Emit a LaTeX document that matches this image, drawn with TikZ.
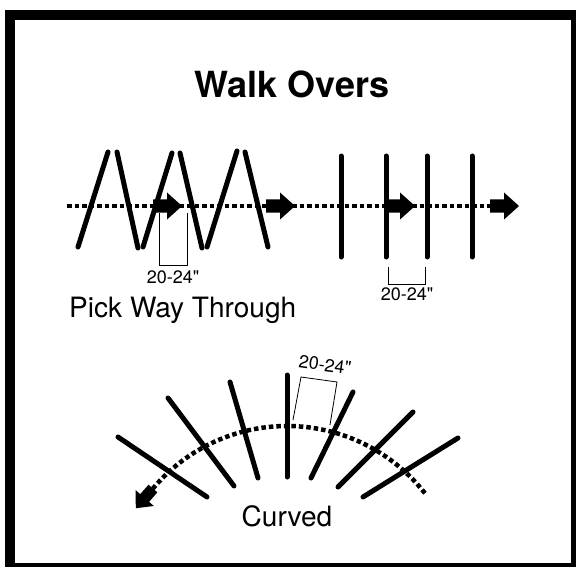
\documentclass[tikz,border=0pt]{standalone}
\usepackage{fontspec}
\setmainfont{TeX Gyre Heros}[Ligatures=TeXOff]
\usetikzlibrary{calc}
\tikzset{
  plank/.style={line width=5pt,line cap=round,draw=black},
  trail/.style={line width=4.5pt,dash pattern=on 4.5pt off 3pt,draw=black},
  dimline/.style={line width=0.8pt,draw=black},
  dimtext/.style={font=\fontsize{18}{20}\selectfont,inner sep=0pt},
  caption/.style={font=\fontsize{28}{32}\selectfont,inner sep=0pt},
  % block arrow, tip at (29,0)
  pics/walkarrow/.style={code={
    \fill[black] (0,-6.5) -- (14,-6.5) -- (14,-13.5) -- (29,0) -- (14,13.5) -- (14,6.5) -- (0,6.5) -- cycle;
  }},
}
\begin{document}
\begin{tikzpicture}[x=1pt,y=-1pt]
  \useasboundingbox (0,0) rectangle (576,567);
  \fill[black] (5,10) rectangle (576,567);
  \fill[white] (15,20) rectangle (571,563);
  \node[font=\fontsize{36}{40}\selectfont\bfseries,inner sep=0pt,anchor=base] (title) at (292,98) {Walk Overs};
  % straight rows
  \draw[trail] (67,206) -- (490,206);
  \foreach \a/\b/\c/\d in {78/247/108/152,117/152/138/248,143/247/172/153,180/153/202/248,207/247/237/151,245/152/268/247}
    \draw[plank] (\a,\b) -- (\c,\d);
  \foreach \x in {341,386,427,472} \draw[plank] (\x,156) -- (\x,257);
  \foreach \x in {153,266,386,490} \pic at (\x,206) {walkarrow};
  \draw[dimline] (159,213) |- (187,265) -- (187,213);
  \node[dimtext,anchor=base] (gapa) at (173,283) {20-24"};
  \draw[dimline] (388,267) |- (425,284) -- (425,267);
  \node[dimtext,anchor=base] (gapb) at (407,300) {20-24"};
  \node[caption,anchor=base west] (pick) at (69,317) {Pick Way Through};
  % curved row
  \coordinate (hub) at (287,601);
  \draw[trail] ($(hub)+(-38:175)$) arc[start angle=-38,end angle=-140,radius=175] coordinate (bend);
  \foreach \a/\b/\c/\d in {118/437/207/497,168/398/234/486,230/382/258/478,287/375/287/477,353/392/311/478,413/412/338/487,458/438/363/497}
    \draw[plank] (\a,\b) -- (\c,\d);
  \pic[rotate=229,scale=0.9] at (bend) {walkarrow};
  \draw[dimline] (293,420) -- (301,377) -- (337,382) -- (330,425);
  \node[dimtext,rotate=-8] (gapc) at (325,365) {20-24"};
  \node[caption,anchor=base] (curved) at (287,526) {Curved};
\end{tikzpicture}
\end{document}
